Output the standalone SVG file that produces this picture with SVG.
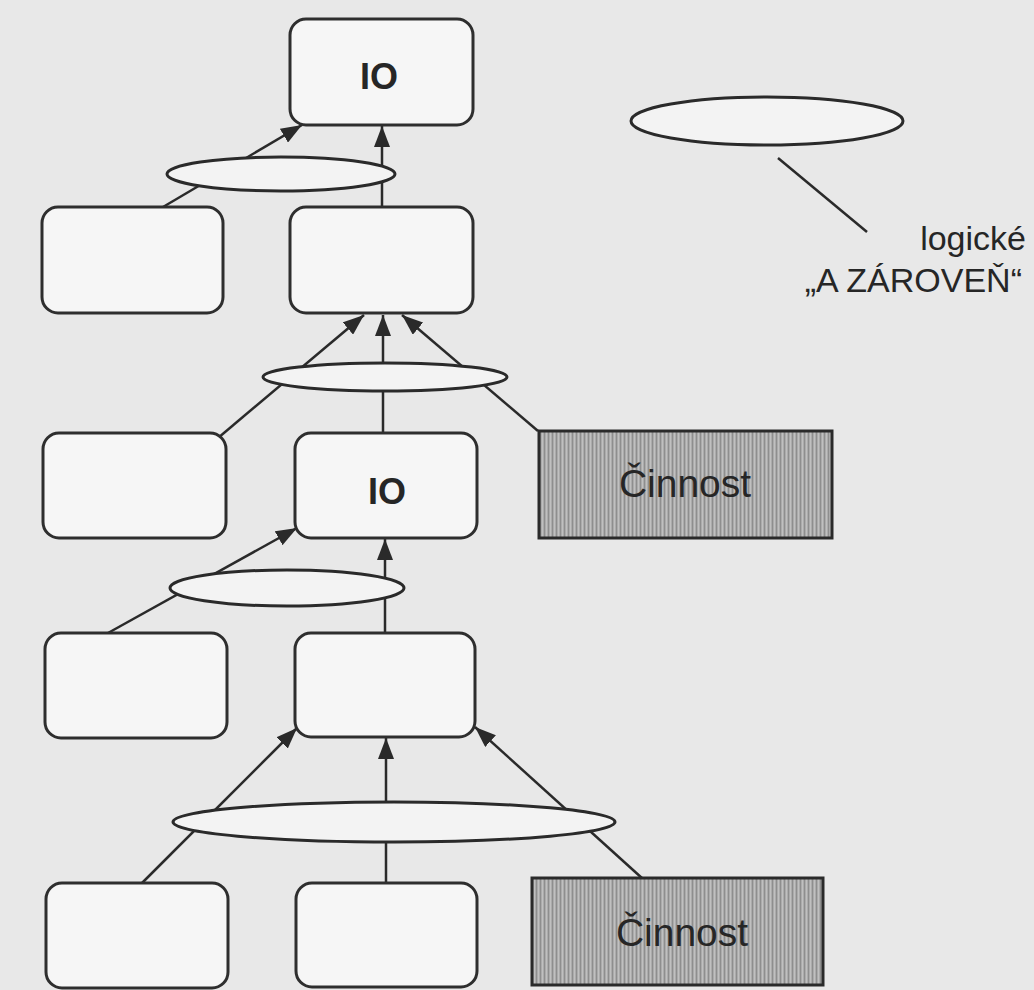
<svg xmlns="http://www.w3.org/2000/svg" width="1034" height="990" viewBox="0 0 1034 990">
  <style>
    .box { fill: #f6f6f6; stroke: #2e2e2e; stroke-width: 3; }
    .act { fill: url(#stripes); stroke: #2a2a2a; stroke-width: 3; }
    .and { fill: #f3f3f3; stroke: #2a2a2a; stroke-width: 3; }
    .con { stroke: #2a2a2a; stroke-width: 2.5; fill: none; }
    .arr { marker-end: url(#ah); }
    .io { font-family: "Liberation Sans", Arial, sans-serif; font-weight: bold; font-size: 36px; fill: #262626; text-anchor: middle; }
    .actxt { font-family: "Liberation Sans", Arial, sans-serif; font-size: 39px; fill: #262626; text-anchor: middle; }
    .leg { font-family: "Liberation Sans", Arial, sans-serif; font-size: 34px; fill: #262626; text-anchor: end; }
  </style>
  <defs>
    <marker id="ah" markerUnits="userSpaceOnUse" markerWidth="21" markerHeight="16" refX="21" refY="8" orient="auto">
      <path d="M0,0 L21,8 L0,16 z" fill="#2a2a2a"/>
    </marker>
    <pattern id="stripes" patternUnits="userSpaceOnUse" width="4" height="4">
      <rect width="4" height="4" fill="#ababab"/>
      <rect x="0" width="1" height="4" fill="#8e8e8e"/>
      <rect x="2" width="1" height="4" fill="#c0c0c0"/>
    </pattern>
  </defs>
  <rect width="1034" height="990" fill="#e8e8e8"/>

  <g id="connectors">
    <line class="con arr" x1="163" y1="207" x2="302" y2="125"/>
    <line class="con arr" x1="382" y1="207" x2="382" y2="126"/>
    <line class="con arr" x1="218" y1="438" x2="364" y2="315"/>
    <line class="con arr" x1="383" y1="433" x2="383" y2="315"/>
    <line class="con arr" x1="538" y1="431" x2="402" y2="315"/>
    <line class="con arr" x1="108" y1="633" x2="297" y2="528"/>
    <line class="con arr" x1="385" y1="633" x2="385" y2="539"/>
    <line class="con arr" x1="142" y1="883" x2="297" y2="728"/>
    <line class="con arr" x1="386" y1="883" x2="386" y2="738"/>
    <line class="con arr" x1="643" y1="879" x2="475" y2="727"/>
    <line class="con" x1="778" y1="158" x2="867" y2="232" stroke-width="4"/>
  </g>

  <g id="io-top"><rect class="box" x="290" y="19" width="183" height="106" rx="16"/><text class="io" x="379" y="89">IO</text></g>
  <g id="and-1"><ellipse class="and" cx="281" cy="174" rx="114" ry="17"/></g>
  <g id="r2-left"><rect class="box" x="42" y="207" width="181" height="106" rx="16"/></g>
  <g id="r2-mid"><rect class="box" x="290" y="207" width="183" height="106" rx="16"/></g>

  <g id="and-2"><ellipse class="and" cx="385" cy="377" rx="122" ry="14"/></g>
  <g id="r3-left"><rect class="box" x="43" y="433" width="183" height="105" rx="16"/></g>
  <g id="io-mid"><rect class="box" x="295" y="433" width="182" height="105" rx="16"/><text class="io" x="387" y="504">IO</text></g>
  <g id="act-1"><rect class="act" x="539" y="431" width="293" height="107"/><text class="actxt" x="685" y="497">Činnost</text></g>

  <g id="and-3"><ellipse class="and" cx="287" cy="588" rx="117" ry="18"/></g>
  <g id="r4-left"><rect class="box" x="45" y="633" width="182" height="105" rx="16"/></g>
  <g id="r4-mid"><rect class="box" x="295" y="633" width="180" height="104" rx="16"/></g>

  <g id="and-4"><ellipse class="and" cx="394" cy="822" rx="221" ry="20"/></g>
  <g id="r5-left"><rect class="box" x="46" y="883" width="182" height="105" rx="16"/></g>
  <g id="r5-mid"><rect class="box" x="296" y="883" width="181" height="104" rx="16"/></g>
  <g id="act-2"><rect class="act" x="532" y="878" width="291" height="107"/><text class="actxt" x="682" y="946">Činnost</text></g>

  <g id="legend">
    <ellipse class="and" cx="767" cy="121" rx="136" ry="24" stroke-width="4"/>
    <text class="leg" x="1026" y="250">logické</text>
    <text class="leg" x="1022" y="292">„A ZÁROVEŇ“</text>
  </g>
</svg>
